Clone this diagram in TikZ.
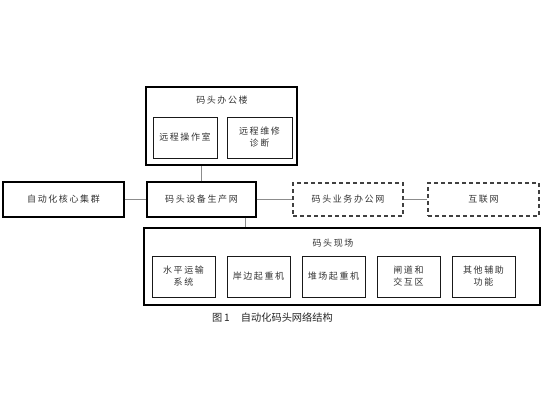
\documentclass[tikz,border=0pt]{standalone}
\usepackage{fontspec}
\newfontfamily\cjk[LetterSpace=18]{Noto Sans CJK SC}
\newfontfamily\cjkcap{Noto Sans CJK SC}
\usetikzlibrary{calc}
\begin{document}
\begin{tikzpicture}[x=1pt,y=-1pt,
  outer/.style={draw=black,line width=1.1pt,minimum width=#1,inner sep=0pt},
  inbox/.style={draw=black!90,line width=0.9pt,minimum width=63pt,minimum height=41pt,inner sep=0pt,align=center,
     font=\cjk\fontsize{9}{12}\selectfont,text=black!80},
  mainbox/.style={draw=black,line width=1.1pt,inner sep=0pt,align=center,font=\cjk\fontsize{9}{12}\selectfont,text=black!80},
  dbox/.style={draw=black!75,line width=1.1pt,dash pattern=on 4pt off 3pt,inner sep=0pt,minimum height=33pt,
     font=\cjk\fontsize{9}{12}\selectfont,text=black!80},
  ttl/.style={font=\cjk\fontsize{9}{12}\selectfont,text=black!80,inner sep=0pt},
  link/.style={draw=black!45,line width=0.6pt}]
\useasboundingbox (0,0) rectangle (550,413);
% office building
\node[outer=151pt,minimum height=78pt] (office) at (221.5,126) {};
\node[ttl] (officet) at (222,100) {码头办公楼};
\node[inbox,minimum width=64pt] (remop) at (185,137.5) {远程操作室};
\node[inbox,minimum width=65pt] (remdiag) at (259.5,137.5) {远程维修\\诊断};
% middle row
\node[mainbox,minimum width=109pt,minimum height=35pt] (prod) at (201.5,199.5) {码头设备生产网};
\node[mainbox,minimum width=121pt,minimum height=35pt] (core) at (63.5,199.5) {自动化核心集群};
\node[dbox,minimum width=110pt] (biz) at (348,199.5) {码头业务办公网};
\node[dbox,minimum width=111pt] (inet) at (483.5,199.5) {互联网};
% site
\node[outer=396pt,minimum height=77pt] (site) at (342,266.5) {};
\node[ttl] (sitet) at (333,243) {码头现场};
\node[inbox] (s1) at (183.5,276.5) {水平运输\\系统};
\node[inbox] (s2) at (258.5,276.5) {岸边起重机};
\node[inbox] (s3) at (333.5,276.5) {堆场起重机};
\node[inbox] (s4) at (408.5,276.5) {闸道和\\交互区};
\node[inbox] (s5) at (483.5,276.5) {其他辅助\\功能};
% caption
\node[anchor=west,inner sep=0pt,font=\cjkcap\fontsize{10.2}{12}\selectfont,text=black!85] (cap) at (212,318) {图\,1\hspace{1.1em}自动化码头网络结构};
% connectors
\draw[link] (prod.north) -- (prod.north |- office.south);
\draw[link] (core.east) -- (prod.west);
\draw[link] (prod.east) -- (biz.west);
\draw[link] (biz.east) -- (inet.west);
\coordinate (pdrop) at ($(prod.south east)+(-11,0)$);
\draw[link] (pdrop) -- (pdrop |- site.north);
\end{tikzpicture}
\end{document}
